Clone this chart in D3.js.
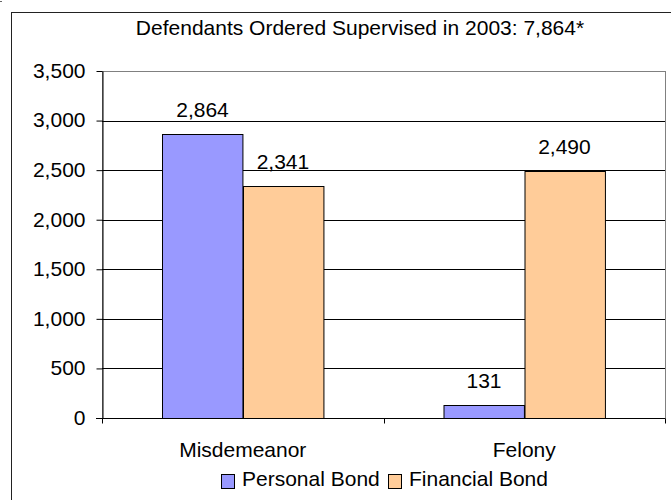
<!DOCTYPE html>
<html>
<head>
<meta charset="utf-8">
<script src="https://cdn.jsdelivr.net/npm/d3@7"></script>
<style>
  html, body { margin: 0; padding: 0; background: #fff; }
  svg { display: block; }
  text { font-family: Arial, "Liberation Sans", sans-serif; fill: #000; }
</style>
</head>
<body>
<svg id="chart" width="671" height="500"></svg>
<script>
const title = "Defendants Ordered Supervised in 2003: 7,864*";
const categories = ["Misdemeanor", "Felony"];
const seriesNames = ["Personal Bond", "Financial Bond"];
const personalBond = [2864, 131];
const financialBond = [2341, 2490];
const yTicks = [0, 500, 1000, 1500, 2000, 2500, 3000, 3500];
const colors = ["#9999FF", "#FFCC99"];

(function () {
const svg = d3.select("#chart");
const fmt = d3.format(",");

const pLeft = 102, pRight = 665, pTop = 71, pBottom = 418;
const y = d3.scaleLinear().domain([0, 3500]).range([pBottom, pTop]);
const x0 = d3.scaleBand().domain(categories).range([pLeft, pRight]).paddingInner(0).paddingOuter(0);
const x1 = d3.scaleBand().domain(seriesNames).range([0, x0.bandwidth()]).paddingInner(0).paddingOuter(0.75);

// stray corner mark
svg.append("rect").attr("x", 0).attr("y", 1).attr("width", 2).attr("height", 1).attr("fill", "#666");

// outer chart border (extends beyond visible area)
svg.append("rect").attr("x", 11.5).attr("y", 12.5).attr("width", 720).attr("height", 520)
  .attr("fill", "none").attr("stroke", "#222").attr("stroke-width", 1);

// plot area border
svg.append("rect").attr("x", pLeft + 0.5).attr("y", pTop + 0.5)
  .attr("width", pRight - pLeft).attr("height", pBottom - pTop)
  .attr("fill", "none").attr("stroke", "#808080").attr("stroke-width", 1);

// gridlines
svg.append("g").selectAll("line").data(yTicks.filter(t => t > 0 && t < 3500)).join("line")
  .attr("x1", pLeft).attr("x2", pRight)
  .attr("y1", d => Math.round(y(d)) + 0.5).attr("y2", d => Math.round(y(d)) + 0.5)
  .attr("stroke", "#000").attr("stroke-width", 1);

// bars
const data = categories.map((c, i) => ({ cat: c, vals: [
  { s: seriesNames[0], v: personalBond[i], c: colors[0] },
  { s: seriesNames[1], v: financialBond[i], c: colors[1] }
]}));

const groups = svg.append("g").selectAll("g").data(data).join("g")
  .attr("transform", d => `translate(${x0(d.cat)},0)`);

groups.selectAll("rect").data(d => d.vals).join("rect")
  .attr("x", d => Math.round(x1(d.s)) + 0.5)
  .attr("y", d => Math.round(y(d.v)) + 0.5)
  .attr("width", x1.bandwidth())
  .attr("height", d => y(0) - Math.round(y(d.v)))
  .attr("fill", d => d.c).attr("stroke", "#000").attr("stroke-width", 1);

groups.selectAll("text").data(d => d.vals).join("text")
  .attr("x", d => x1(d.s) + x1.bandwidth() / 2)
  .attr("y", d => y(d.v) - 17)
  .attr("text-anchor", "middle")
  .style("font-size", "21px")
  .text(d => fmt(d.v));

// y axis
const yAxis = svg.append("g").attr("transform", `translate(${pLeft + 0.5},0)`)
  .call(d3.axisLeft(y).tickValues(yTicks).tickFormat(fmt).tickSizeInner(6).tickSizeOuter(0).tickPadding(11));
yAxis.select(".domain").attr("stroke", "#000");
yAxis.selectAll(".tick line").attr("stroke", "#000");
yAxis.selectAll(".tick text").style("font-size", "21px").style("font-family", "Arial, 'Liberation Sans', sans-serif")
  .attr("dy", "0.3em").attr("fill", "#000");

// x axis
const xAxis = svg.append("g").attr("transform", `translate(0,${pBottom + 0.5})`)
  .call(d3.axisBottom(x0).tickSize(0).tickPadding(0));
xAxis.select(".domain").attr("stroke", "#000").attr("d", `M${pLeft - 6},0H${pRight}`);
xAxis.selectAll(".tick text").style("font-size", "21px").style("font-family", "Arial, 'Liberation Sans', sans-serif")
  .attr("y", 38).attr("dy", 0).attr("fill", "#000");
// boundary tick marks
const bounds = [pLeft, pLeft + x0.bandwidth(), pRight];
xAxis.selectAll(".bt").data(bounds).join("line").attr("class", "bt")
  .attr("x1", d => Math.round(d) + 0.5).attr("x2", d => Math.round(d) + 0.5)
  .attr("y1", 0).attr("y2", 5).attr("stroke", "#000");

// title
svg.append("text").attr("x", 360).attr("y", 35).attr("text-anchor", "middle")
  .style("font-size", "21px").text(title);

// legend
const legendItems = [
  { name: seriesNames[0], color: colors[0], x: 221 },
  { name: seriesNames[1], color: colors[1], x: 388 }
];
const lg = svg.append("g").selectAll("g").data(legendItems).join("g")
  .attr("transform", d => `translate(${d.x},0)`);
lg.append("rect").attr("x", 0.5).attr("y", 474.5).attr("width", 13).attr("height", 14)
  .attr("fill", d => d.color).attr("stroke", "#000");
lg.append("text").attr("x", 21).attr("y", 486).style("font-size", "21px").text(d => d.name);
})();
</script>
</body>
</html>
